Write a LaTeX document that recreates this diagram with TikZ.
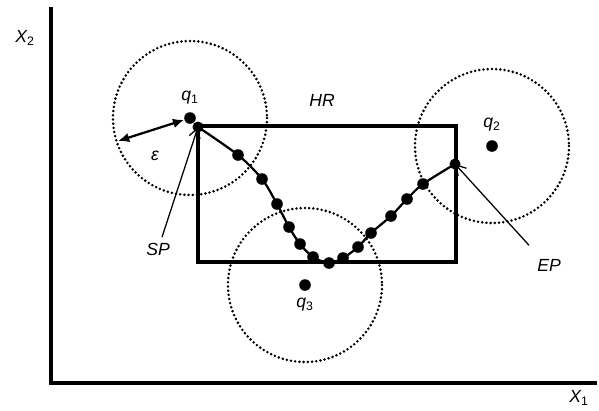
\documentclass[tikz,border=0pt]{standalone}
\usepackage{fontspec}
\setmainfont{Liberation Sans}
\usetikzlibrary{arrows.meta, positioning}

\begin{document}
\begin{tikzpicture}[
        x=0.025cm, y=-0.025cm,
        axis/.style={line width=2.6pt},
        region/.style={draw, line width=2.6pt},
        zone/.style={draw, line width=2pt, line cap=round, dash pattern=on 0pt off 3pt},
        pt/.style={circle, fill, inner sep=0pt, minimum size=2.9mm},
        lbl/.style={font=\fontsize{12.5}{14}\selectfont\itshape, inner sep=1pt},
        pointer/.style={-{Straight Barb[length=2.4mm, width=2.8mm]}, line width=0.9pt},
        radius/.style={{Latex[length=2.8mm, width=2.4mm]}-{Latex[length=2.8mm, width=2.4mm]}, line width=1.6pt}
    ]
    \useasboundingbox (0,0) rectangle (599,410);
    % axes
    \coordinate (o) at (51,383);
    \coordinate (ytop) at (51,7);
    \coordinate (xend) at (597,383);
    \draw[axis] (ytop) -- (o) -- (xend);
    \node[lbl] (x2) at (25,38) {X\textsubscript{\upshape 2}};
    \node[lbl] (x1) at (579,398) {X\textsubscript{\upshape 1}};
    % query points and their zones
    \node[pt] (q1) at (190,118) {};
    \node[pt] (q2) at (492,146) {};
    \node[pt] (q3) at (305,285) {};
    \draw[zone] (q1) circle (77);
    \draw[zone] (q2) circle (77);
    \draw[zone] (q3) circle (77);
    \node[lbl, above=4pt of q1] (q1l) {q\textsubscript{\upshape 1}};
    \node[lbl, above=5pt of q2] (q2l) {q\textsubscript{\upshape 2}};
    \node[lbl, below=4pt of q3] (q3l) {q\textsubscript{\upshape 3}};
    % hyper-rectangle
    \draw[region] (198,126) rectangle (456,262);
    \node[lbl] (hr) at (322,100) {HR};
    % trajectory
    \coordinate (sp) at (198,127);
    \coordinate (ep) at (455,164);
    \foreach \x/\y [count=\i] in {238/155, 262/179, 277/204, 289/227, 300/244, 313/257,
            329/263, 343/258, 358/247, 371/233, 391/216, 407/199, 423/184}
        \node[pt] (p\i) at (\x,\y) {};
    \draw[line width=1.6pt] plot[smooth, tension=0.5] coordinates {(sp) (p1) (p2) (p3) (p4) (p5)
        (p6) (p7) (p8) (p9) (p10) (p11) (p12) (p13) (ep)};
    \fill (sp) circle (5.5);
    \fill (ep) circle (5.5);
    % epsilon
    \coordinate (e0) at (118,141);
    \draw[radius] (e0) -- (q1);
    \node[lbl] (eps) at (155,156) {ε};
    % start and end
    \node[lbl] (spl) at (158,249) {SP};
    \node[lbl] (epl) at (549,265) {EP};
    \draw[pointer] (spl.north) ++(4,-4) coordinate (s1) (s1) -- (sp);
    \draw[pointer] (epl.north) ++(-20,-12) coordinate (e1) (e1) -- (ep);
\end{tikzpicture}
\end{document}
